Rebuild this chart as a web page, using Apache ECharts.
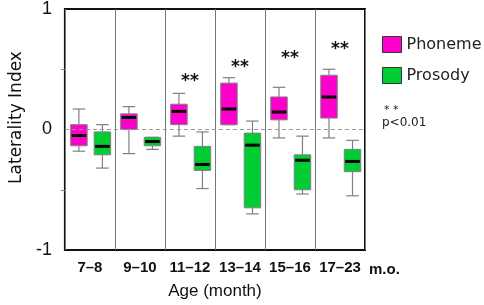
<!DOCTYPE html>
<html>
<head>
<meta charset="utf-8">
<script src="https://cdn.jsdelivr.net/npm/echarts@6/dist/echarts.min.js"></script>
<style>
  html, body { margin: 0; padding: 0; background: #fff; }
  #main { width: 484px; height: 305px; }
</style>
</head>
<body>
<div id="main"></div>
<script>
// age groups
var categories = ['7–8', '9–10', '11–12', '13–14', '15–16', '17–23'];
// [min, q1, median, q3, max]
var phoneme = [
  [-0.18, -0.135, -0.05, 0.04, 0.17],
  [-0.20, 0.00, 0.10, 0.13, 0.19],
  [-0.055, 0.04, 0.15, 0.21, 0.30],
  [0.04, 0.04, 0.17, 0.385, 0.43],
  [-0.07, 0.08, 0.145, 0.27, 0.35],
  [-0.07, 0.095, 0.27, 0.45, 0.50]
];
var prosody = [
  [-0.32, -0.21, -0.14, -0.02, 0.04],
  [-0.165, -0.135, -0.10, -0.065, -0.065],
  [-0.49, -0.34, -0.29, -0.14, -0.02],
  [-0.70, -0.65, -0.13, -0.03, 0.07],
  [-0.535, -0.50, -0.255, -0.21, -0.055],
  [-0.55, -0.35, -0.265, -0.165, -0.09]
];
// height of "**" marks (null = not significant)
var sigY = [null, null, 0.40, 0.51, 0.59, 0.66];
var yTicks = [-1, 0, 1];

var myChart = echarts.init(document.getElementById('main'));

function toItems(arr) {
  return arr.map(function (d, i) { return [i].concat(d); });
}

function boxRender(offsetFrac, fill) {
  return function (params, api) {
    var i = api.value(0);
    var band = api.size([1, 0])[0];
    var cx = api.coord([i, 0])[0] + offsetFrac * band;
    var half = band * 0.165;
    var cap = band * 0.125;
    var yMin = api.coord([i, api.value(1)])[1];
    var yQ1 = api.coord([i, api.value(2)])[1];
    var yMed = api.coord([i, api.value(3)])[1];
    var yQ3 = api.coord([i, api.value(4)])[1];
    var yMax = api.coord([i, api.value(5)])[1];
    var wStyle = { stroke: '#808080', lineWidth: 1.2 };
    return {
      type: 'group',
      children: [
        { type: 'line', shape: { x1: cx, y1: yMax, x2: cx, y2: yQ3 }, style: wStyle },
        { type: 'line', shape: { x1: cx, y1: yQ1, x2: cx, y2: yMin }, style: wStyle },
        { type: 'line', shape: { x1: cx - cap, y1: yMax, x2: cx + cap, y2: yMax }, style: wStyle },
        { type: 'line', shape: { x1: cx - cap, y1: yMin, x2: cx + cap, y2: yMin }, style: wStyle },
        {
          type: 'rect',
          shape: { x: cx - half, y: yQ3, width: half * 2, height: yQ1 - yQ3 },
          style: { fill: fill, stroke: '#808080', lineWidth: 1 }
        },
        {
          type: 'line',
          shape: { x1: cx - half + 1, y1: yMed, x2: cx + half - 1, y2: yMed },
          style: { stroke: '#000', lineWidth: 3 }
        }
      ]
    };
  };
}

var sigData = [];
sigY.forEach(function (v, i) { if (v !== null) sigData.push([i, v]); });

var option = {
  animation: false,
  grid: {
    left: 47, right: 119, top: 4, bottom: 53,
    show: true, borderColor: '#111', borderWidth: 2
  },
  legend: {
    orient: 'vertical',
    left: 377, top: 31,
    itemWidth: 19, itemHeight: 16, itemGap: 14,
    icon: 'rect',
    textStyle: { fontFamily: 'DejaVu Sans', fontSize: 16, color: '#222' },
    data: [
      { name: 'Phoneme', itemStyle: { color: '#ff00cc', borderColor: '#333', borderWidth: 1 } },
      { name: 'Prosody', itemStyle: { color: '#00cc33', borderColor: '#333', borderWidth: 1 } }
    ]
  },
  xAxis: {
    type: 'category',
    data: categories,
    boundaryGap: true,
    axisLine: { show: false },
    axisTick: { show: false },
    axisLabel: {
      interval: 0,
      margin: 10, color: '#111', fontWeight: 'bold',
      fontFamily: 'Liberation Sans', fontSize: 15
    },
    splitLine: { show: true, interval: 0, lineStyle: { color: '#777', width: 1 } },
    name: 'Age (month)',
    nameLocation: 'middle',
    nameGap: 33,
    nameTextStyle: { fontFamily: 'Liberation Sans', fontSize: 17, color: '#111' }
  },
  yAxis: {
    type: 'value',
    min: -1, max: 1, interval: 0.5,
    axisLine: { show: false },
    axisTick: { show: true, length: 4, customValues: [-0.5, 0.5], lineStyle: { color: '#888' } },
    axisLabel: {
      customValues: yTicks,
      margin: 13, color: '#111',
      fontFamily: 'Liberation Sans', fontSize: 18
    },
    splitLine: { show: false },
    name: 'Laterality Index',
    nameLocation: 'middle',
    nameGap: 27,
    nameTextStyle: { fontFamily: 'DejaVu Sans', fontSize: 17, color: '#111', padding: [0, 0, 0, 24] }
  },
  graphic: [
    { type: 'text', left: 369, top: 262, style: { text: 'm.o.', font: 'bold 15px "Liberation Sans"', fill: '#111' } },
    { type: 'text', left: 384, top: 105, style: { text: '* *', font: '11px "DejaVu Sans"', fill: '#222' } },
    { type: 'text', left: 382, top: 117, style: { text: 'p<0.01', font: '12px "DejaVu Sans"', fill: '#222' } }
  ],
  series: [
    {
      type: 'line',
      data: [],
      silent: true,
      markLine: {
        silent: true,
        symbol: 'none',
        label: { show: false },
        lineStyle: { color: '#999', type: [4, 3], width: 1 },
        data: [{ yAxis: 0 }]
      }
    },
    {
      name: 'Phoneme',
      type: 'custom',
      itemStyle: { color: '#ff00cc' },
      encode: { x: 0, y: [1, 2, 3, 4, 5] },
      renderItem: boxRender(-0.22, '#ff00cc'),
      data: toItems(phoneme)
    },
    {
      name: 'Prosody',
      type: 'custom',
      itemStyle: { color: '#00cc33' },
      encode: { x: 0, y: [1, 2, 3, 4, 5] },
      renderItem: boxRender(0.25, '#00cc33'),
      data: toItems(prosody)
    },
    {
      type: 'custom',
      silent: true,
      encode: { x: 0, y: 1 },
      renderItem: function (params, api) {
        var p = api.coord([api.value(0), api.value(1)]);
        return {
          type: 'text',
          style: {
            x: p[0], y: p[1], text: '**',
            font: 'bold 17px "DejaVu Sans"', fill: '#111',
            align: 'center', verticalAlign: 'middle'
          }
        };
      },
      data: sigData
    }
  ]
};
myChart.setOption(option);
</script>
</body>
</html>
